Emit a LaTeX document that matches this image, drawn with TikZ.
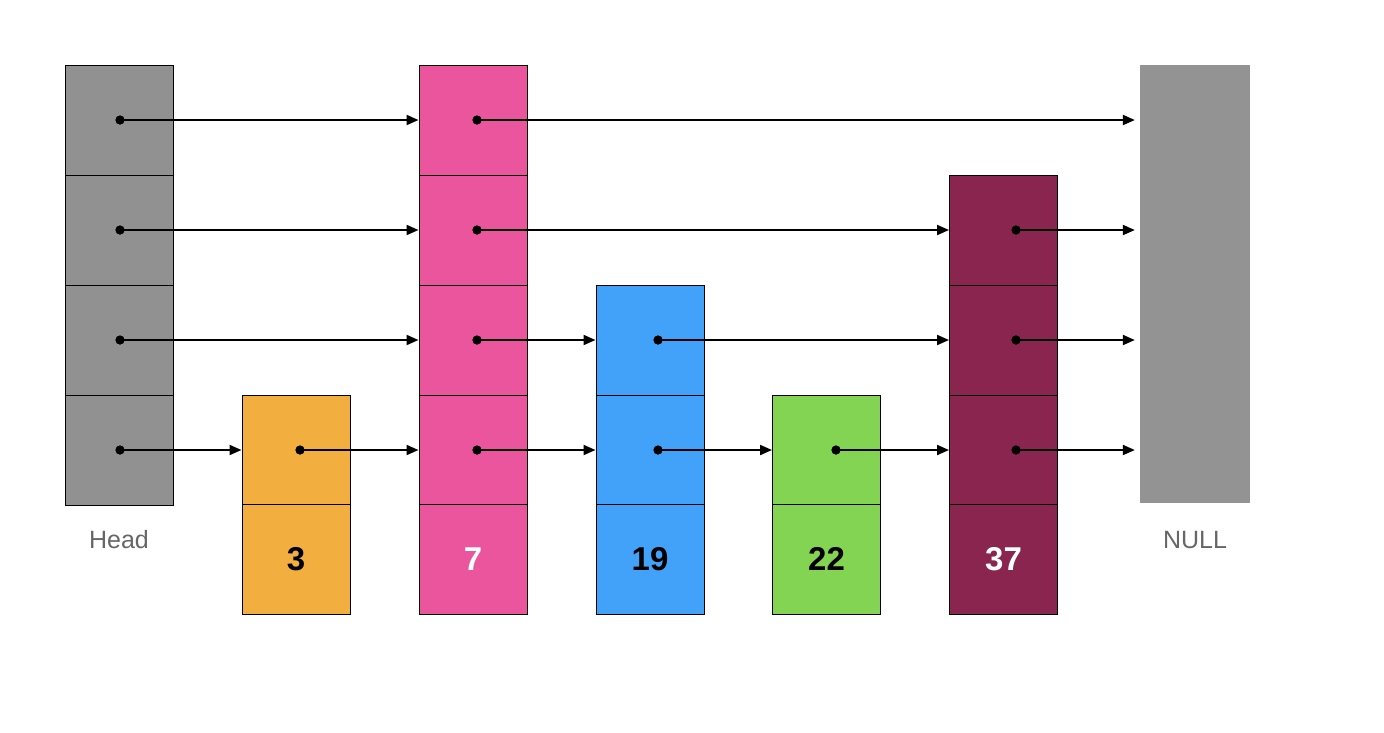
\documentclass[tikz,border=0pt]{standalone}
\usepackage{fontspec}
\setmainfont{Liberation Sans}
\usetikzlibrary{arrows.meta}
\definecolor{cellgray}{HTML}{919191}
\definecolor{nullgray}{HTML}{939393}
\definecolor{pinkc}{HTML}{EA559E}
\definecolor{orangec}{HTML}{F2AF40}
\definecolor{bluec}{HTML}{42A1F8}
\definecolor{greenc}{HTML}{83D452}
\definecolor{maroonc}{HTML}{8A2550}
\definecolor{labelgray}{HTML}{666666}
\tikzset{
  cell/.style={draw=black, line width=1pt, minimum width=108pt, minimum height=110pt, inner sep=0pt},
  numtxt/.style={font=\fontsize{33}{37}\selectfont\bfseries},
  lbl/.style={text=labelgray, font=\fontsize{25}{29}\selectfont},
  ptr/.style={line width=2pt, -{Triangle[length=12pt,width=10pt]}},
  dotc/.style={circle, fill=black, inner sep=0pt, minimum size=9pt}
}
\begin{document}
\begin{tikzpicture}[x=1pt,y=-1pt]
\useasboundingbox (0,0) rectangle (1384,732);
% Head column
\foreach \r/\y in {1/120,2/230,3/340,4/450}{
  \node[cell, fill=cellgray] (h\r) at (119,\y) {};
}
% node 3
\node[cell, fill=orangec] (t1) at (296,450) {};
\node[cell, fill=orangec, numtxt, text=black] (t0) at (296,559) {3};
% node 7
\foreach \r/\y in {1/120,2/230,3/340,4/450}{
  \node[cell, fill=pinkc] (s\r) at (473,\y) {};
}
\node[cell, fill=pinkc, numtxt, text=white] (s0) at (473,559) {7};
% node 19
\node[cell, fill=bluec] (n3) at (650,340) {};
\node[cell, fill=bluec] (n4) at (650,450) {};
\node[cell, fill=bluec, numtxt, text=black] (n0) at (650,559) {19};
% node 22
\node[cell, fill=greenc] (w4) at (826.5,450) {};
\node[cell, fill=greenc, numtxt, text=black] (w0) at (826.5,559) {22};
% node 37
\node[cell, fill=maroonc] (q2) at (1003.5,230) {};
\node[cell, fill=maroonc] (q3) at (1003.5,340) {};
\node[cell, fill=maroonc] (q4) at (1003.5,450) {};
\node[cell, fill=maroonc, numtxt, text=white] (q0) at (1003.5,559) {37};
% NULL
\node[fill=nullgray, minimum width=110pt, minimum height=438pt, inner sep=0pt] (null) at (1195,284) {};
% labels
\node[lbl] (headlbl) at (119,540) {Head};
\node[lbl] (nulllbl) at (1195,540) {NULL};
% dots
\foreach \r/\y in {1/120,2/230,3/340,4/450}{
  \node[dotc] (hd\r) at (120,\y) {};
  \node[dotc] (sd\r) at (477,\y) {};
}
\node[dotc] (td) at (300,450) {};
\node[dotc] (nd3) at (658,340) {};
\node[dotc] (nd4) at (658,450) {};
\node[dotc] (wd) at (836,450) {};
\node[dotc] (qd2) at (1016,230) {};
\node[dotc] (qd3) at (1016,340) {};
\node[dotc] (qd4) at (1016,450) {};
% level 1
\draw[ptr] (hd1.center) -- (s1.west);
\draw[ptr, shorten >=5pt] (sd1.center) -- (sd1.center -| null.west);
% level 2
\draw[ptr] (hd2.center) -- (s2.west);
\draw[ptr] (sd2.center) -- (q2.west);
\draw[ptr, shorten >=5pt] (qd2.center) -- (qd2.center -| null.west);
% level 3
\draw[ptr] (hd3.center) -- (s3.west);
\draw[ptr] (sd3.center) -- (n3.west);
\draw[ptr] (nd3.center) -- (q3.west);
\draw[ptr, shorten >=5pt] (qd3.center) -- (qd3.center -| null.west);
% level 4
\draw[ptr] (hd4.center) -- (t1.west);
\draw[ptr] (td.center) -- (s4.west);
\draw[ptr] (sd4.center) -- (n4.west);
\draw[ptr] (nd4.center) -- (w4.west);
\draw[ptr] (wd.center) -- (q4.west);
\draw[ptr, shorten >=5pt] (qd4.center) -- (qd4.center -| null.west);
% redraw dots on top
\foreach \d in {hd1,hd2,hd3,hd4,sd1,sd2,sd3,sd4,td,nd3,nd4,wd,qd2,qd3,qd4}{
  \fill (\d.center) circle (4.5pt);
}
\end{tikzpicture}
\end{document}
